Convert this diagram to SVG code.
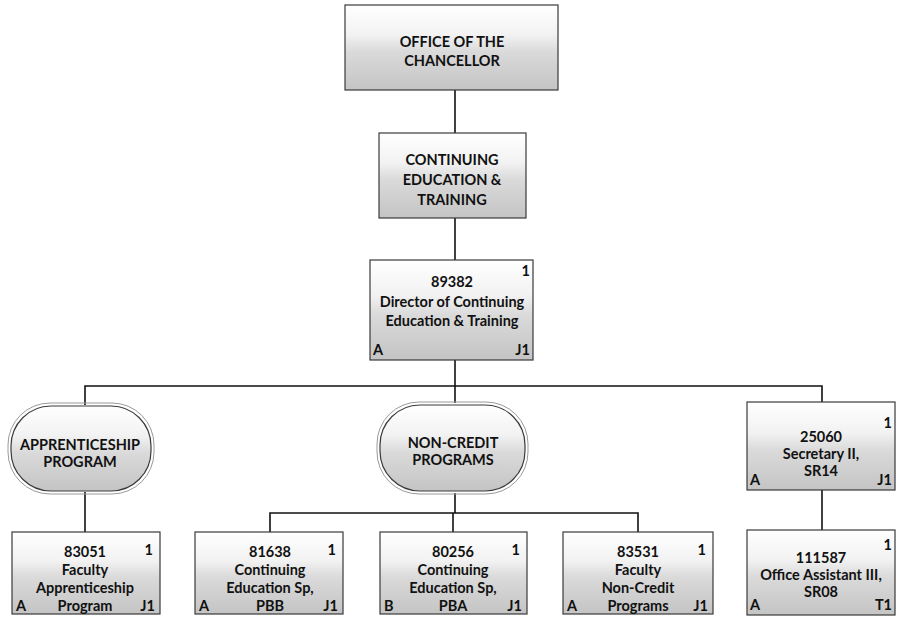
<svg xmlns="http://www.w3.org/2000/svg" width="898" height="624" viewBox="0 0 898 624">
<defs>
<linearGradient id="g" x1="0" y1="0" x2="0" y2="1">
<stop offset="0" stop-color="#ffffff"/>
<stop offset="0.35" stop-color="#f2f2f2"/>
<stop offset="0.55" stop-color="#dadada"/>
<stop offset="1" stop-color="#c4c4c4"/>
</linearGradient>
</defs>
<style>
.box{fill:url(#g);stroke:#3a3a3a;stroke-width:1.2}
.shadow{fill:none;stroke:#9a9a9a;stroke-width:1}
.t{font-family:Lato,"Open Sans","Liberation Sans",sans-serif;font-size:14.5px;font-weight:bold;fill:#111;text-anchor:middle}
.s{font-family:Lato,"Open Sans","Liberation Sans",sans-serif;font-size:14.5px;fill:#111;font-weight:bold}
.e{text-anchor:end}
.c line,.c path{stroke:#111;stroke-width:1.6;fill:none}
</style>
<rect width="898" height="624" fill="#fff"/>
<g class="c" id="connectors">
<line x1="455" y1="90" x2="455" y2="133"/>
<line x1="455" y1="218" x2="455" y2="260"/>
<line x1="455" y1="360" x2="455" y2="386"/>
<path d="M85 405 V386 H822 V402"/>
<line x1="455" y1="386" x2="455" y2="403"/>
<line x1="85" y1="492" x2="85" y2="532"/>
<line x1="455" y1="493" x2="455" y2="513"/>
<path d="M270 532 V513 H638 V532"/>
<line x1="453" y1="513" x2="453" y2="532"/>
<line x1="822" y1="490" x2="822" y2="530"/>
</g>
<g id="chancellor">
<rect class="box" x="345" y="5" width="213" height="85"/>
<text class="t" x="452" y="47">OFFICE OF THE</text>
<text class="t" x="452" y="66">CHANCELLOR</text>
</g>
<g id="cet">
<rect class="box" x="379" y="133" width="147" height="85"/>
<text class="t" x="452" y="165">CONTINUING</text>
<text class="t" x="452" y="185">EDUCATION &amp;</text>
<text class="t" x="452" y="205">TRAINING</text>
</g>
<g id="p89382">
<rect class="box" x="370" y="260" width="163" height="100"/>
<text class="t" x="452" y="287">89382</text>
<text class="t" x="452" y="307">Director of Continuing</text>
<text class="t" x="452" y="326">Education &amp; Training</text>
<text class="s e" x="530" y="276">1</text>
<text class="s" x="373" y="355">A</text>
<text class="s e" x="530" y="355">J1</text>
</g>
<g id="apprenticeship">
<rect class="shadow" x="8" y="403" width="146" height="91" rx="42"/>
<rect class="box" x="11" y="406" width="140" height="85" rx="40"/>
<text class="t" x="80" y="450">APPRENTICESHIP</text>
<text class="t" x="80" y="467">PROGRAM</text>
</g>
<g id="noncredit">
<rect class="shadow" x="377" y="402" width="151" height="92" rx="42"/>
<rect class="box" x="380" y="405" width="145" height="86" rx="40"/>
<text class="t" x="453" y="448">NON-CREDIT</text>
<text class="t" x="453" y="465">PROGRAMS</text>
</g>
<g id="p25060">
<rect class="box" x="747" y="402" width="148" height="88"/>
<text class="t" x="821" y="442">25060</text>
<text class="t" x="821" y="459">Secretary II,</text>
<text class="t" x="821" y="476">SR14</text>
<text class="s e" x="892" y="428">1</text>
<text class="s" x="750" y="485">A</text>
<text class="s e" x="892" y="485">J1</text>
</g>
<g id="p83051">
<rect class="box" x="12" y="532" width="148" height="82"/>
<text class="t" x="85" y="557">83051</text>
<text class="t" x="85" y="575">Faculty</text>
<text class="t" x="85" y="593">Apprenticeship</text>
<text class="t" x="85" y="611">Program</text>
<text class="s e" x="153" y="555">1</text>
<text class="s" x="16" y="611">A</text>
<text class="s e" x="155" y="611">J1</text>
</g>
<g id="p81638">
<rect class="box" x="195" y="532" width="148" height="82"/>
<text class="t" x="270" y="557">81638</text>
<text class="t" x="270" y="575">Continuing</text>
<text class="t" x="270" y="593">Education Sp,</text>
<text class="t" x="270" y="611">PBB</text>
<text class="s e" x="336" y="555">1</text>
<text class="s" x="199" y="611">A</text>
<text class="s e" x="338" y="611">J1</text>
</g>
<g id="p80256">
<rect class="box" x="380" y="532" width="147" height="82"/>
<text class="t" x="453" y="557">80256</text>
<text class="t" x="453" y="575">Continuing</text>
<text class="t" x="453" y="593">Education Sp,</text>
<text class="t" x="453" y="611">PBA</text>
<text class="s e" x="520" y="555">1</text>
<text class="s" x="384" y="611">B</text>
<text class="s e" x="522" y="611">J1</text>
</g>
<g id="p83531">
<rect class="box" x="563" y="532" width="150" height="82"/>
<text class="t" x="638" y="557">83531</text>
<text class="t" x="638" y="575">Faculty</text>
<text class="t" x="638" y="593">Non-Credit</text>
<text class="t" x="638" y="611">Programs</text>
<text class="s e" x="706" y="555">1</text>
<text class="s" x="567" y="611">A</text>
<text class="s e" x="708" y="611">J1</text>
</g>
<g id="p111587">
<rect class="box" x="747" y="530" width="148" height="85"/>
<text class="t" x="821" y="563">111587</text>
<text class="t" x="821" y="580">Office Assistant III,</text>
<text class="t" x="821" y="597">SR08</text>
<text class="s e" x="892" y="550">1</text>
<text class="s" x="750" y="610">A</text>
<text class="s e" x="892" y="610">T1</text>
</g>
</svg>
